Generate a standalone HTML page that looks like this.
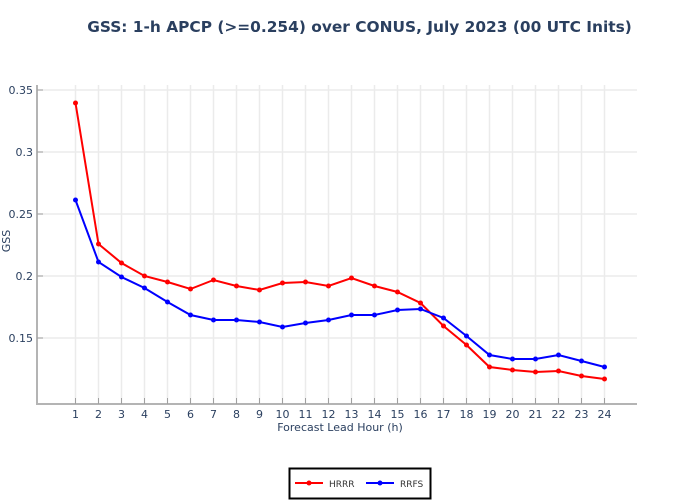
<!DOCTYPE html>
<html><head><meta charset="utf-8"><style>body{margin:0;background:#fff}svg{display:block;font-family:"DejaVu Sans","Liberation Sans",sans-serif}</style></head><body>
<svg width="700" height="500" viewBox="0 0 700 500">
<text x="359.5" y="32" font-size="15.4" font-weight="bold" fill="#2a3f5f" text-anchor="middle">GSS: 1-h APCP (&gt;=0.254) over CONUS, July 2023 (00 UTC Inits)</text>
<g id="grid" stroke="#ebebeb" stroke-width="1.5"></g>
<line x1="37" y1="85" x2="37" y2="404" stroke="#b4b4b4" stroke-width="2"/>
<line x1="36" y1="404" x2="637" y2="404" stroke="#b4b4b4" stroke-width="2"/>
<g id="ticks" stroke="#a0a0a0" stroke-width="1"></g>
<g id="labels" font-size="11" fill="#2a3f5f"></g>
<text x="340" y="431" font-size="11" fill="#2a3f5f" text-anchor="middle">Forecast Lead Hour (h)</text>
<text x="10" y="241" font-size="11" fill="#2a3f5f" text-anchor="middle" transform="rotate(-90 10 241)">GSS</text>
<g id="series"></g>
<rect x="289.5" y="468.5" width="141" height="30" fill="#fff" stroke="#000" stroke-width="2"/>
<line x1="295" y1="483" x2="323" y2="483" stroke="red" stroke-width="2"/><circle cx="309" cy="483" r="2.5" fill="red"/>
<text x="329" y="487" font-size="9" fill="#333">HRRR</text>
<line x1="366" y1="483" x2="394" y2="483" stroke="blue" stroke-width="2"/><circle cx="380" cy="483" r="2.5" fill="blue"/>
<text x="400" y="487" font-size="9" fill="#333">RRFS</text>
</svg>
<script>
const ns="http://www.w3.org/2000/svg";
function el(p,t,a,txt){const e=document.createElementNS(ns,t);for(const k in a)e.setAttribute(k,a[k]);if(txt)e.textContent=txt;document.getElementById(p).appendChild(e);}
const X=i=>75.5+(i-1)*23;
const yt=[[0.35,90],[0.3,152],[0.25,214],[0.2,276],[0.15,338]];
yt.forEach(([v,y])=>{el("grid","line",{x1:37,x2:637,y1:y,y2:y});el("ticks","line",{x1:37,x2:43,y1:y,y2:y});el("labels","text",{x:33,y:y+4,"text-anchor":"end"},String(v));});
for(let i=1;i<=24;i++){const x=X(i);el("grid","line",{x1:x,x2:x,y1:85,y2:404});el("ticks","line",{x1:x,x2:x,y1:398,y2:404});el("labels","text",{x:x,y:418,"text-anchor":"middle"},String(i));}
const H=[103,244,263,276,282,289,280,286,290,283,282,286,278,286,292,303,326,345,367,370,372,371,376,379];
const R=[200,262,277,288,302,315,320,320,322,327,323,320,315,315,310,309,318,336,355,359,359,355,361,367];
[[H,"red"],[R,"blue"]].forEach(([d,c])=>{el("series","polyline",{points:d.map((y,i)=>X(i+1)+","+y).join(" "),fill:"none",stroke:c,"stroke-width":2});d.forEach((y,i)=>el("series","circle",{cx:X(i+1),cy:y,r:2.5,fill:c}));});
</script>
</body></html>
